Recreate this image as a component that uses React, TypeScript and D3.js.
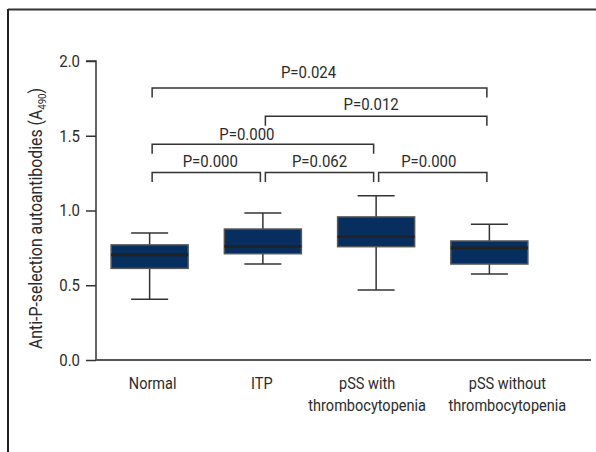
import { useRef, useEffect } from 'react';
import * as d3 from 'd3';

// groups and box-plot summary values (A490)
const groups = ['Normal', 'ITP', 'pSS with thrombocytopenia', 'pSS without thrombocytopenia'];
const groupLabelLines = [['Normal'], ['ITP'], ['pSS with', 'thrombocytopenia'], ['pSS without', 'thrombocytopenia']];
const whiskerLow = [0.406, 0.642, 0.468, 0.575];
const q1 = [0.613, 0.711, 0.758, 0.642];
const medians = [0.704, 0.76, 0.825, 0.749];
const q3 = [0.77, 0.876, 0.957, 0.796];
const whiskerHigh = [0.85, 0.983, 1.099, 0.908];

const yTicks = [0, 0.5, 1.0, 1.5, 2.0];

// pairwise comparisons
const compFrom = [0, 1, 2, 0, 1, 0];
const compTo = [1, 2, 3, 2, 3, 3];
const compTier = [0, 0, 0, 1, 2, 3];
const pLabels = ['P=0.000', 'P=0.062', 'P=0.000', 'P=0.000', 'P=0.012', 'P=0.024'];

const FONT = 'Roboto, "Noto Sans", sans-serif';
const TEXT = '#2b2b2b';
const SX = 0.88; // squeeze to mimic the condensed face

type Sel = d3.Selection<any, unknown, null, undefined>;

// condensed text placed at (x, y)
const addText = (parent: Sel, x: number, y: number, str: string, size: number, anchor = 'middle') =>
  parent.append('text')
    .attr('transform', `translate(${x},${y}) scale(${SX},1)`)
    .attr('text-anchor', anchor).attr('fill', TEXT)
    .attr('font-family', FONT).attr('font-size', size)
    .text(str);

const App = () => {
  const ref = useRef<SVGSVGElement>(null);

  useEffect(() => {
    const svg = d3.select(ref.current) as unknown as Sel;
    svg.selectAll('*').remove();

    const left = 96, right = 591, top = 61, bottom = 360;

    const x = d3.scaleBand<string>()
      .domain(groups)
      .range([93, 546])
      .paddingInner(0.32)
      .paddingOuter(0.16);
    const y = d3.scaleLinear().domain([0, 2]).range([bottom, top]);
    const cx = (i: number) => (x(groups[i]) as number) + x.bandwidth() / 2;

    // outer frame (top and left edges)
    svg.append('line').attr('x1', 8).attr('x2', 596).attr('y1', 9.5).attr('y2', 9.5)
      .attr('stroke', '#333').attr('stroke-width', 2);
    svg.append('line').attr('x1', 8).attr('x2', 8).attr('y1', 9).attr('y2', 452)
      .attr('stroke', '#222').attr('stroke-width', 2);

    // y axis
    const yAxis = svg.append('g')
      .attr('transform', `translate(${left},0)`)
      .call(d3.axisLeft(y).tickValues(yTicks).tickFormat(d3.format('.1f')).tickSize(10).tickPadding(5));
    yAxis.select('.domain').attr('stroke', '#333').attr('stroke-width', 1.5).attr('d', `M-10,${top}H0V${bottom}`);
    yAxis.selectAll('.tick line').attr('stroke', '#333').attr('stroke-width', 1.5);
    yAxis.selectAll('.tick text')
      .attr('x', null)
      .attr('transform', `translate(-16,0) scale(${SX},1)`)
      .attr('fill', TEXT).attr('font-family', FONT).attr('font-size', 17);

    // x axis line
    svg.append('line').attr('x1', left).attr('x2', right).attr('y1', bottom).attr('y2', bottom)
      .attr('stroke', '#555').attr('stroke-width', 2);

    // category labels
    const labelNudge = [3, -1, -9, 18];
    groupLabelLines.forEach((lines, i) => {
      lines.forEach((ln, j) => {
        addText(svg, cx(i) + labelNudge[i], 389 + j * 22, ln, 16.5);
      });
    });

    // y axis title
    const title = svg.append('text')
      .attr('transform', `translate(42,${(top + bottom) / 2 + 8}) rotate(-90) scale(${SX},1)`)
      .attr('text-anchor', 'middle').attr('fill', TEXT)
      .attr('font-family', FONT).attr('font-size', 18);
    title.append('tspan').text('Anti-P-selection autoantibodies (A');
    title.append('tspan').attr('font-size', 11).attr('dy', 4).text('490');
    title.append('tspan').attr('dy', -4).text(')');

    // boxes
    const capW = 37;
    const bw = x.bandwidth();
    groups.forEach((g, i) => {
      const gx = cx(i);
      const bg = svg.append('g');
      bg.append('line').attr('x1', gx).attr('x2', gx).attr('y1', y(whiskerHigh[i])).attr('y2', y(q3[i]))
        .attr('stroke', '#333').attr('stroke-width', 1.5);
      bg.append('line').attr('x1', gx).attr('x2', gx).attr('y1', y(q1[i])).attr('y2', y(whiskerLow[i]))
        .attr('stroke', '#333').attr('stroke-width', 1.5);
      [whiskerHigh[i], whiskerLow[i]].forEach(v => {
        bg.append('line').attr('x1', gx - capW / 2).attr('x2', gx + capW / 2).attr('y1', y(v)).attr('y2', y(v))
          .attr('stroke', '#333').attr('stroke-width', 1.5);
      });
      bg.append('rect')
        .attr('x', x(g) as number).attr('width', bw)
        .attr('y', y(q3[i])).attr('height', y(q1[i]) - y(q3[i]))
        .attr('fill', '#062e5e').attr('stroke', '#555').attr('stroke-width', 1.5);
      bg.append('line').attr('x1', x(g) as number).attr('x2', (x(g) as number) + bw)
        .attr('y1', y(medians[i])).attr('y2', y(medians[i]))
        .attr('stroke', '#222').attr('stroke-width', 2.8);
    });

    // significance brackets
    const tierY = (t: number) => y(1.255 + t * 0.188);
    const textDx = [4, 0, -4, -16, -5, -11];
    const textDy = [-5, -5, -5, -4, -6, -10];
    compFrom.forEach((a, k) => {
      const x1 = cx(a) + 2.5, x2 = cx(compTo[k]) - 2.5, by = tierY(compTier[k]);
      svg.append('path')
        .attr('d', `M${x1},${by + 9.5}V${by}H${x2}V${by + 9.5}`)
        .attr('fill', 'none').attr('stroke', '#333').attr('stroke-width', 1.5);
      addText(svg, (x1 + x2) / 2 + textDx[k], by + textDy[k], pLabels[k], 17);
    });
  }, []);

  return (
    <svg ref={ref} width={596} height={452}
      style={{ position: 'absolute', left: 0, top: 0, display: 'block', background: '#fff' }} />
  );
};

export default App;
